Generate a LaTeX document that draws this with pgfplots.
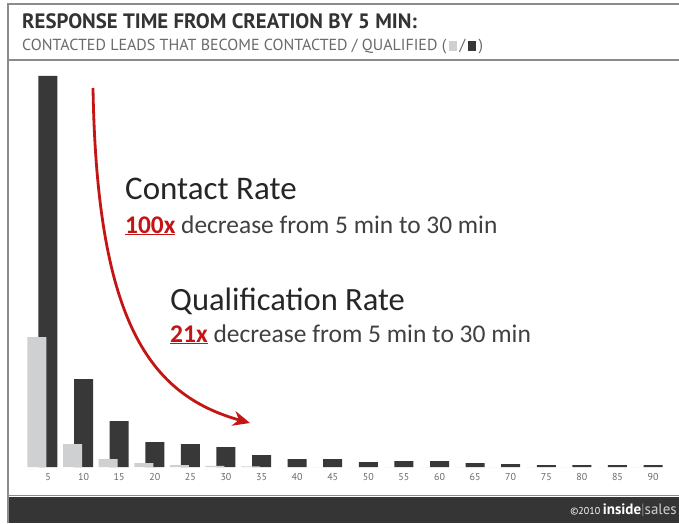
\documentclass[border=0pt]{standalone}
\usepackage{fontspec}
\setmainfont{Carlito}
\newfontfamily\titlefont{PT Sans}
\usepackage{pgfplots}
\pgfplotsset{compat=1.18}
\usetikzlibrary{arrows.meta}
\definecolor{darkbar}{HTML}{383838}
\definecolor{lightbar}{HTML}{CFD0D2}
\definecolor{framegray}{HTML}{8C8C8C}
\definecolor{titlegray}{HTML}{333333}
\definecolor{subgray}{HTML}{6A6A6A}
\definecolor{arrowred}{HTML}{C41414}
\definecolor{footer}{HTML}{353535}
\pgfplotstableread{
x dark light
5 391 130
10 88 23
15 46 8
20 25 4
25 23 2
30 20 1.2
35 12 0.6
40 8 0
45 8 0
50 5 0
55 6 0
60 6 0
65 4 0
70 3 0
75 2 0
80 2 0
85 2 0
90 2 0
}\ratedata
\begin{document}
\begin{tikzpicture}[x=1pt,y=1pt]
\useasboundingbox (0,0) rectangle (679,523);
\fill[white] (0,0) rectangle (679,523);
% footer
\fill[footer] (8,0) rectangle (679,26);
\draw[framegray,line width=1.2pt] (8,27.5) -- (679,27.5);
% frame
\draw[framegray,line width=2pt] (8,0) -- (8,519) -- (679,519);
\draw[framegray,line width=2pt] (8,463) -- (679,463);
% title
\node[anchor=base west,inner sep=0,text=titlegray] at (22,494) {\titlefont\fontsize{20.8}{23}\selectfont\bfseries RESPONSE TIME FROM CREATION BY 5 MIN:};
\node[anchor=base west,inner sep=0,text=subgray] at (22,472) {\titlefont\fontsize{16}{17}\selectfont CONTACTED LEADS THAT BECOME CONTACTED / QUALIFIED (\,\textcolor{lightbar}{\rule{8pt}{10pt}}\,/\,\textcolor{darkbar}{\rule{8pt}{10pt}}\,)};
% footer text
\node[anchor=base east,inner sep=0,text=white] at (677,9) {\titlefont{\fontsize{10}{11}\selectfont\copyright2010} \fontsize{15}{16}\selectfont\bfseries inside\textcolor{gray}{\mdseries|}\mdseries\textcolor{lightbar}{sales}};
\begin{axis}[
  at={(12.4pt,56pt)}, anchor=south west,
  scale only axis, width=662pt, height=400pt,
  xmin=0, xmax=93, ymin=0, ymax=400,
  axis line style={draw=none},
  ytick=\empty,
  xtick={5,10,...,90},
  major tick length=0pt,
  xticklabel style={font=\titlefont\fontsize{10}{11}\selectfont, text=subgray, yshift=-3pt},
  /pgf/number format/assume math mode=true,
  clip=false,
]
\addplot[ybar, bar width=19pt, bar shift=0pt, fill=darkbar, draw=none] table[x=x,y=dark] {\ratedata};
\addplot[ybar, bar width=19pt, bar shift=-11pt, fill=lightbar, draw=none] table[x=x,y=light] {\ratedata};
\end{axis}
% arrow
\draw[arrowred, line width=2.8pt, -{Stealth[length=17pt,width=15pt]}] (93,435) .. controls (97,200) and (150,128) .. (250,100);
% annotations
\node[anchor=base west,inner sep=0,text=black!85] at (125,324) {\fontsize{33}{36}\selectfont Contact Rate};
\node[anchor=base west,inner sep=0,text=black!75] at (125,290) {\fontsize{25.4}{28}\selectfont \textcolor{arrowred}{\bfseries\underline{100x}} decrease from 5 min to 30 min};
\node[anchor=base west,inner sep=0,text=black!85] at (170,213) {\fontsize{32.5}{36}\selectfont Qualification Rate};
\node[anchor=base west,inner sep=0,text=black!75] at (170,181) {\fontsize{25.5}{28}\selectfont \textcolor{arrowred}{\bfseries\underline{21x}} decrease from 5 min to 30 min};
\end{tikzpicture}
\end{document}
